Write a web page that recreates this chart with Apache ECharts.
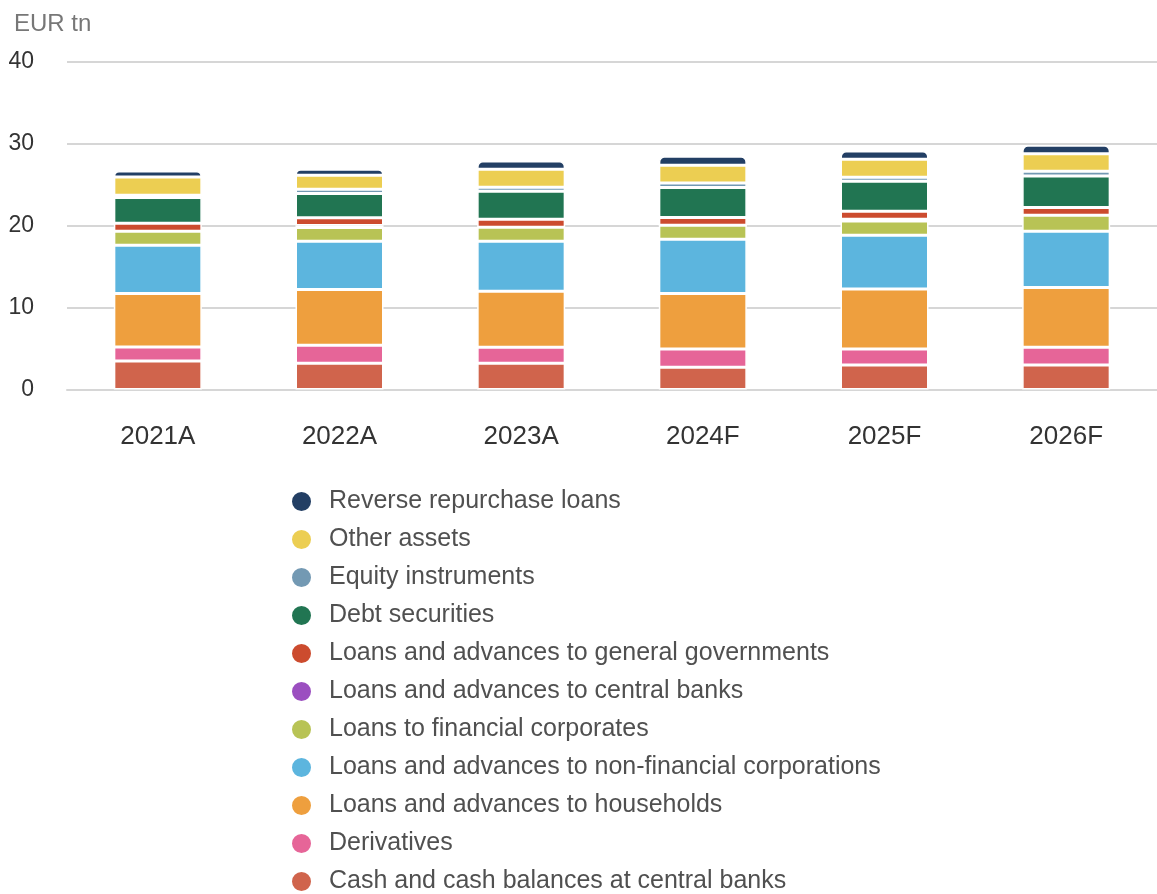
<!DOCTYPE html>
<html>
<head>
<meta charset="utf-8">
<script src="https://cdn.jsdelivr.net/npm/echarts@6/dist/echarts.min.js"></script>
<style>
html,body{margin:0;padding:0;background:#fff;}
#chart{width:1157px;height:894px;}
</style>
</head>
<body>
<div id="chart"></div>
<script>
const categories = ['2021A', '2022A', '2023A', '2024F', '2025F', '2026F'];
const yTicks = [0, 10, 20, 30, 40];

const cashBalances = [3.48, 3.20, 3.20, 2.71, 2.99, 2.99];
const derivatives = [1.70, 2.19, 1.95, 2.23, 1.95, 2.16];
const households = [6.55, 6.83, 6.86, 6.79, 7.32, 7.31];
const nonFinancialCorps = [5.89, 5.89, 6.10, 6.62, 6.58, 6.87];
const financialCorps = [1.71, 1.67, 1.71, 1.71, 1.75, 1.95];
const centralBanks = [0, 0.25, 0, 0, 0.20, 0];
const generalGovernments = [0.97, 0.95, 0.97, 0.94, 0.98, 0.94];
const debtSecurities = [3.14, 2.95, 3.42, 3.66, 3.66, 3.85];
const equityInstruments = [0.30, 0.52, 0.49, 0.56, 0.48, 0.58];
const otherAssets = [2.21, 1.71, 2.19, 2.16, 2.20, 2.15];
const reverseRepo = [0.73, 0.73, 1.01, 1.10, 1.01, 1.02];

const seriesDefs = [
  ['Cash and cash balances at central banks', cashBalances, '#d0644c'],
  ['Derivatives', derivatives, '#e66598'],
  ['Loans and advances to households', households, '#ee9f3e'],
  ['Loans and advances to non-financial corporations', nonFinancialCorps, '#5cb5de'],
  ['Loans to financial corporates', financialCorps, '#b8c355'],
  ['Loans and advances to central banks', centralBanks, '#9b4fc0'],
  ['Loans and advances to general governments', generalGovernments, '#cc4b2e'],
  ['Debt securities', debtSecurities, '#217552'],
  ['Equity instruments', equityInstruments, '#7399b3'],
  ['Other assets', otherAssets, '#ecce52'],
  ['Reverse repurchase loans', reverseRepo, '#233f64']
];

const FONT = '"Liberation Sans", Arial, sans-serif';
const chart = echarts.init(document.getElementById('chart'), null, {renderer: 'canvas'});

const series = seriesDefs.map((d, i) => ({
  name: d[0],
  type: 'bar',
  stack: 'total',
  data: d[1],
  barWidth: 88,
  itemStyle: {
    color: d[2],
    borderColor: '#ffffff',
    borderWidth: 1.5,
    borderRadius: i === seriesDefs.length - 1 ? [5, 5, 0, 0] : 0
  },
  emphasis: {disabled: true}
}));

chart.setOption({
  animation: false,
  textStyle: {fontFamily: FONT},
  title: {
    text: 'EUR tn',
    left: 9,
    top: 7,
    textStyle: {fontFamily: FONT, fontSize: 24, fontWeight: 'normal', color: '#777777'}
  },
  grid: {left: 67, right: -13, top: 62, bottom: 504.5, containLabel: false},
  xAxis: {
    type: 'category',
    data: categories,
    axisLine: {show: true, lineStyle: {color: '#d6d6d6', width: 2}},
    axisTick: {show: false},
    axisLabel: {fontFamily: FONT, fontSize: 26, color: '#333333', margin: 34}
  },
  yAxis: {
    type: 'value',
    min: yTicks[0],
    max: yTicks[yTicks.length - 1],
    interval: 10,
    axisLine: {show: false},
    axisTick: {show: false},
    splitLine: {lineStyle: {color: '#d6d6d6', width: 2}},
    axisLabel: {fontFamily: FONT, fontSize: 23, color: '#333333', margin: 33}
  },
  legend: {
    orient: 'vertical',
    left: 290,
    top: 489,
    height: 440,
    padding: 0,
    icon: 'circle',
    itemWidth: 21,
    itemHeight: 21,
    itemGap: 13,
    selectedMode: false,
    data: seriesDefs.map(d => d[0]).reverse(),
    textStyle: {fontFamily: FONT, fontSize: 25, color: '#505050', padding: [0, 0, 0, 12]}
  },
  series: series
});
</script>
</body>
</html>
